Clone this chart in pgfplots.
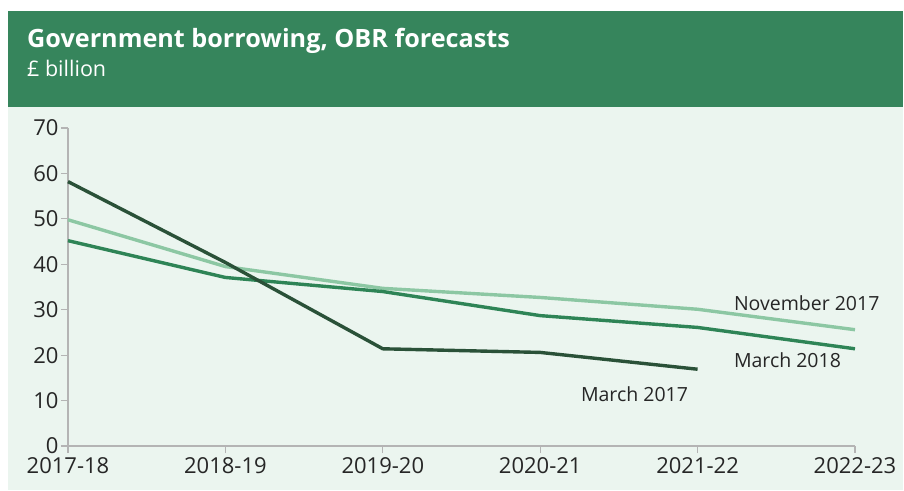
\documentclass[border=0pt]{standalone}
\usepackage{pgfplots}
\pgfplotsset{compat=1.18}
\usepackage{fontspec}
\setmainfont{Open Sans}
\newfontfamily\titlefont{Open Sans}

\definecolor{headergreen}{HTML}{36855C}
\definecolor{panelgreen}{HTML}{EBF5EF}
\definecolor{mar17}{HTML}{2A5138}
\definecolor{mar18}{HTML}{2E8456}
\definecolor{nov17}{HTML}{8CC7A3}
\definecolor{axisgrey}{HTML}{B4B4B4}

% Borrowing forecasts, £ billion, by fiscal year (0 = 2017-18)
\pgfplotstableread{
x y
0 58.2
1 40.4
2 21.4
3 20.6
4 16.9
}\marchseventeen
\pgfplotstableread{
x y
0 49.8
1 39.5
2 34.7
3 32.7
4 30.1
5 25.6
}\novseventeen
\pgfplotstableread{
x y
0 45.2
1 37.1
2 34.0
3 28.7
4 26.1
5 21.4
}\marcheighteen

\begin{document}
\begin{tikzpicture}[x=1pt,y=1pt]
  % page, panel and header band
  \fill[white] (0,0) rectangle (904,-490);
  \fill[panelgreen] (8,-106.5) rectangle (903,-490);
  \fill[headergreen] (8,-11) rectangle (903,-106.5);
  \node[anchor=base west, text=white, font=\titlefont\bfseries\fontsize{25.2}{29}\selectfont, inner sep=0pt]
    at (27,-47) {Government borrowing, OBR forecasts};
  \node[anchor=base west, text=white, font=\fontsize{21.5}{25}\selectfont, inner sep=0pt]
    at (27,-76) {£ billion};

  \begin{axis}[
    at={(68pt,-446pt)}, anchor=south west,
    scale only axis,
    width=787pt, height=318pt,
    xmin=0, xmax=5, ymin=0, ymax=70,
    axis x line=bottom, axis y line=left,
    axis line style={axisgrey, line width=1.2pt, -},
    xtick={0,...,5},
    xticklabels={2017-18,2018-19,2019-20,2020-21,2021-22,2022-23},
    ytick={0,10,...,70},
    tick style={axisgrey, line width=1.2pt},
    major tick length=7pt,
    xtick align=outside, ytick align=outside,
    x tick label style={font=\fontsize{22}{26}\selectfont, text=black!85, yshift=-1.5pt},
    y tick label style={font=\fontsize{22}{26}\selectfont, text=black!85, xshift=1pt},
    /pgf/number format/assume math mode=true,
    clip=false,
  ]
    \addplot[nov17, line width=3.4pt] table {\novseventeen};
    \addplot[mar18, line width=3.4pt] table {\marcheighteen};
    \addplot[mar17, line width=3.4pt] table {\marchseventeen};

    \node[anchor=west, inner sep=0pt, font=\fontsize{19.5}{23}\selectfont, text=black!85] at (axis cs:4.23,31.5) {November 2017};
    \node[anchor=west, inner sep=0pt, font=\fontsize{19.5}{23}\selectfont, text=black!85] at (axis cs:4.23,18.8) {March 2018};
    \node[anchor=east, inner sep=0pt, font=\fontsize{19.5}{23}\selectfont, text=black!85] at (axis cs:3.94,11.4) {March 2017};
  \end{axis}
\end{tikzpicture}
\end{document}
